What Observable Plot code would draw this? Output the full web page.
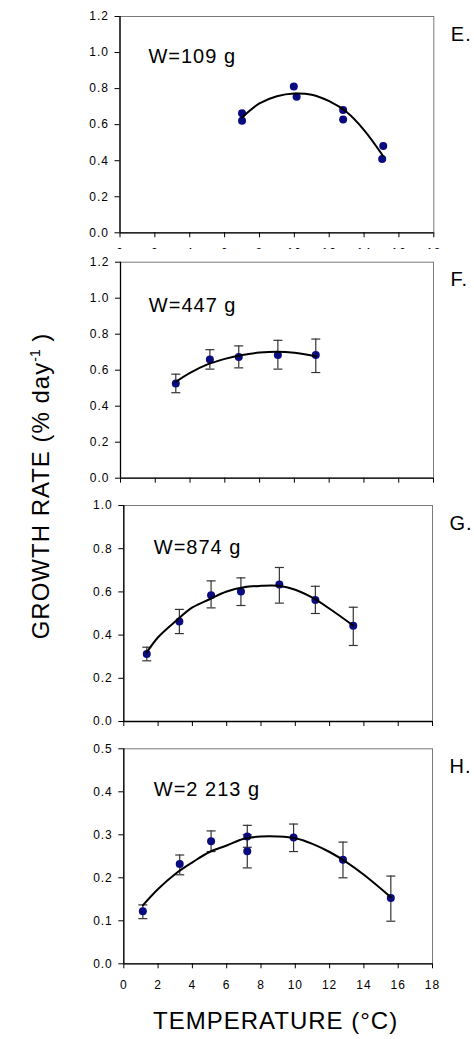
<!DOCTYPE html>
<html>
<head>
<meta charset="utf-8">
<script src="https://cdn.jsdelivr.net/npm/d3@7"></script>
<script src="https://cdn.jsdelivr.net/npm/@observablehq/plot@0.6"></script>
<style>
  html, body { margin: 0; padding: 0; background: white; }
  #chart { position: relative; width: 474px; height: 1039px; font-family: "Liberation Sans", Arial, sans-serif; }
  #chart > svg { position: absolute; left: 0; }
  .title { position: absolute; font-size: 24px; letter-spacing: 1px; white-space: nowrap; color: black; }
  .title sup { font-size: 14px; letter-spacing: 0; }
</style>
</head>
<body>
<div id="chart"></div>
<script>
// ---- tick labels ----
const xTicks = [0, 2, 4, 6, 8, 10, 12, 14, 16, 18];
const yTicksEF = [0, 0.2, 0.4, 0.6, 0.8, 1.0, 1.2];
const yTicksG = [0, 0.2, 0.4, 0.6, 0.8, 1.0];
const yTicksH = [0, 0.1, 0.2, 0.3, 0.4, 0.5];

// ---- panel labels / notes ----
const panelLabels = ["E.", "F.", "G.", "H."];
const weightNotes = ["W=109 g", "W=447 g", "W=874 g", "W=2 213 g"];

// ---- Panel E (W=109 g) ----
const eTemp = [7.0, 7.0, 9.97, 10.13, 12.8, 12.8, 15.1, 15.04];
const eRate = [0.663, 0.621, 0.811, 0.755, 0.681, 0.629, 0.482, 0.410];
const eFitT = [7.0, 8, 9, 10, 11, 12, 13, 14, 15.1];
const eFitR = [0.64, 0.718, 0.758, 0.773, 0.766, 0.73, 0.67, 0.57, 0.425];

// ---- Panel F (W=447 g) ----
const fTemp = [3.18, 5.14, 6.8, 9.05, 11.23];
const fRate = [0.526, 0.659, 0.674, 0.685, 0.685];
const fLo   = [0.475, 0.606, 0.613, 0.606, 0.587];
const fHi   = [0.578, 0.714, 0.735, 0.766, 0.773];
const fFitT = [3.18, 4, 5, 6, 7, 8, 9, 10, 11.23];
const fFitR = [0.535, 0.585, 0.632, 0.663, 0.685, 0.698, 0.703, 0.697, 0.677];

// ---- Panel G (W=874 g) ----
const gTemp = [1.34, 3.24, 5.09, 6.83, 9.07, 11.17, 13.38];
const gRate = [0.313, 0.463, 0.585, 0.602, 0.634, 0.563, 0.443];
const gLo   = [0.281, 0.407, 0.526, 0.537, 0.548, 0.500, 0.352];
const gHi   = [0.344, 0.519, 0.651, 0.665, 0.713, 0.626, 0.529];
const gFitT = [1.34, 2, 3, 4, 5, 6, 7, 8, 9, 10, 11, 12, 13.38];
const gFitR = [0.32, 0.39, 0.463, 0.528, 0.566, 0.602, 0.622, 0.628, 0.628, 0.61, 0.573, 0.522, 0.444];

// ---- Panel H (W=2 213 g) ----
const hTemp = [1.11, 3.26, 5.09, 7.2, 7.2, 9.9, 12.78, 15.57];
const hRate = [0.122, 0.232, 0.285, 0.296, 0.262, 0.294, 0.242, 0.153];
const hLo   = [0.105, 0.207, 0.261, 0.271, 0.223, 0.261, 0.200, 0.099];
const hHi   = [0.137, 0.253, 0.309, 0.322, 0.300, 0.325, 0.283, 0.204];
const hFitT = [1.11, 2, 3, 4, 5, 6, 7, 8, 9, 10, 11, 12, 13, 14, 15.57];
const hFitR = [0.136, 0.174, 0.209, 0.236, 0.26, 0.275, 0.291, 0.296, 0.296, 0.292, 0.279, 0.26, 0.236, 0.207, 0.155];

const FONT = "'Liberation Sans', Arial, sans-serif";
const capSymbol = { draw(ctx) { ctx.moveTo(-4.5, 0); ctx.lineTo(4.5, 0); } };

function panel(cfg) {
  const pts = cfg.temp.map((t, i) => ({ t, r: cfg.rate[i], lo: cfg.lo ? cfg.lo[i] : null, hi: cfg.hi ? cfg.hi[i] : null }));
  const fit = cfg.fitT.map((t, i) => ({ t, r: cfg.fitR[i] }));
  const marks = [
    Plot.frame({ stroke: "#7a7a7a", strokeWidth: 1 }),
    Plot.ruleX([0], { stroke: "black", strokeWidth: 1.3 }),
    Plot.ruleY([0], { stroke: "black", strokeWidth: 1.3 }),
    Plot.axisY({ ticks: cfg.yTicks, tickFormat: d3.format(".1f"), tickSize: 5, tickPadding: 6, label: null, fontSize: 12 }),
    Plot.axisX({ ticks: xTicks, tickFormat: cfg.showX ? (d => String(d)) : (() => ""), tickSize: 5, tickPadding: cfg.xPad, label: null, fontSize: 12 })
  ];
  if (cfg.lo) {
    marks.push(
      Plot.ruleX(pts, { x: "t", y1: "lo", y2: "hi", stroke: "#333", strokeWidth: 1.2 }),
      Plot.dot(pts, { x: "t", y: "lo", symbol: capSymbol, stroke: "#333", fill: "none", strokeWidth: 1.2 }),
      Plot.dot(pts, { x: "t", y: "hi", symbol: capSymbol, stroke: "#333", fill: "none", strokeWidth: 1.2 })
    );
  }
  marks.push(
    Plot.dot(pts, { x: "t", y: "r", r: 4, fill: "#0b0b80", stroke: "none" }),
    Plot.line(fit, { x: "t", y: "r", curve: "catmull-rom", stroke: "black", strokeWidth: 2 }),
    Plot.text([cfg.note], { x: cfg.noteX, y: cfg.noteY, text: d => d, textAnchor: "start", lineAnchor: "bottom", fontSize: 20, fill: "black" }),
    Plot.text([cfg.label], { frameAnchor: "top-right", text: d => d, textAnchor: "start", lineAnchor: "top", dx: 17, dy: 10, fontSize: 20, fill: "black" })
  );
  const svg = Plot.plot({
    width: 474,
    height: cfg.height,
    marginLeft: cfg.ml,
    marginRight: cfg.mr,
    marginTop: cfg.mt,
    marginBottom: cfg.mb,
    x: { domain: [0, 18] },
    y: { domain: cfg.yDomain },
    style: { fontFamily: FONT, fontSize: "12px", letterSpacing: "1px", background: "white", color: "black", overflow: "visible" },
    marks
  });
  svg.style.top = cfg.top + "px";
  svg.style.overflow = "visible";
  return svg;
}

const chart = document.getElementById("chart");

chart.append(panel({
  temp: eTemp, rate: eRate, fitT: eFitT, fitR: eFitR,
  yDomain: [0, 1.2], yTicks: yTicksEF, label: panelLabels[0], note: weightNotes[0], noteX: 1.63, noteY: 0.94,
  top: 0, height: 262, ml: 119.5, mr: 40.7, mt: 16, mb: 29.7, showX: true, xPad: 11
}));
chart.append(panel({
  temp: fTemp, rate: fRate, lo: fLo, hi: fHi, fitT: fFitT, fitR: fFitR,
  yDomain: [0, 1.2], yTicks: yTicksEF, label: panelLabels[1], note: weightNotes[1], noteX: 1.63, noteY: 0.922,
  top: 249, height: 249, ml: 120, mr: 41, mt: 12.7, mb: 20.3, showX: false, xPad: 6
}));
chart.append(panel({
  temp: gTemp, rate: gRate, lo: gLo, hi: gHi, fitT: gFitT, fitR: gFitR,
  yDomain: [0, 1.0], yTicks: yTicksG, label: panelLabels[2], note: weightNotes[2], noteX: 1.75, noteY: 0.776,
  top: 490, height: 245, ml: 123.3, mr: 42, mt: 15, mb: 14, showX: false, xPad: 6
}));
chart.append(panel({
  temp: hTemp, rate: hRate, lo: hLo, hi: hHi, fitT: hFitT, fitR: hFitR,
  yDomain: [0, 0.5], yTicks: yTicksH, label: panelLabels[3], note: weightNotes[3], noteX: 1.75, noteY: 0.391,
  top: 735, height: 263.3, ml: 123.3, mr: 42, mt: 13.3, mb: 35, showX: true, xPad: 12
}));

// Axis titles
const yTitle = document.createElement("div");
yTitle.className = "title";
yTitle.innerHTML = "GROWTH RATE (% day<sup>-1</sup> )";
yTitle.style.left = "41px";
yTitle.style.top = "486px";
yTitle.style.transform = "translate(-50%, -50%) rotate(-90deg)";
chart.append(yTitle);

const xTitle = document.createElement("div");
xTitle.className = "title";
xTitle.textContent = "TEMPERATURE (°C)";
xTitle.style.left = "275.6px";
xTitle.style.top = "1007px";
xTitle.style.transform = "translateX(-50%)";
chart.append(xTitle);
</script>
</body>
</html>
